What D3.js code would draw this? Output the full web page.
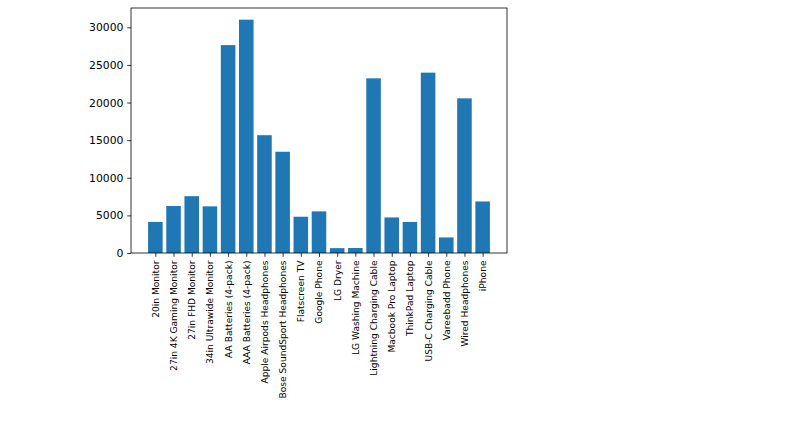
<!DOCTYPE html>
<html>
<head>
<meta charset="utf-8">
<script src="https://cdn.jsdelivr.net/npm/d3@7"></script>
<style>
  body { margin: 0; background: #fff; }
  text { font-family: "DejaVu Sans", sans-serif; fill: #000; }
</style>
</head>
<body>
<svg id="chart" width="793" height="426"></svg>
<script>
// Quantity ordered per product
const products = [
  '20in Monitor', '27in 4K Gaming Monitor', '27in FHD Monitor',
  '34in Ultrawide Monitor', 'AA Batteries (4-pack)', 'AAA Batteries (4-pack)',
  'Apple Airpods Headphones', 'Bose SoundSport Headphones', 'Flatscreen TV',
  'Google Phone', 'LG Dryer', 'LG Washing Machine', 'Lightning Charging Cable',
  'Macbook Pro Laptop', 'ThinkPad Laptop', 'USB-C Charging Cable',
  'Vareebadd Phone', 'Wired Headphones', 'iPhone'
];
const quantities = [
  4129, 6244, 7550, 6199, 27635, 31017, 15661, 13457, 4819, 5532,
  646, 666, 23217, 4728, 4130, 23975, 2068, 20557, 6849
];
const yTicks = [0, 5000, 10000, 15000, 20000, 25000, 30000];

const margin = {top: 8, right: 286, bottom: 173, left: 131};
const width = 793 - margin.left - margin.right;
const height = 426 - margin.top - margin.bottom;
const barWidth = 0.8;

const svg = d3.select('#chart');
const g = svg.append('g')
    .attr('transform', 'translate(' + margin.left + ',' + margin.top + ')');

// matplotlib-style 5% margins around the data extent
const xMin = -barWidth / 2, xMax = products.length - 1 + barWidth / 2;
const xPad = (xMax - xMin) * 0.05;
const x = d3.scaleLinear()
    .domain([xMin - xPad, xMax + xPad])
    .range([0, width]);
const yMax = d3.max(quantities) * 1.05;
const y = d3.scaleLinear().domain([0, yMax]).range([height, 0]);

g.selectAll('rect.bar')
    .data(quantities)
    .join('rect')
    .attr('class', 'bar')
    .attr('x', (d, i) => x(i - barWidth / 2))
    .attr('width', (d, i) => x(i + barWidth / 2) - x(i - barWidth / 2))
    .attr('y', d => y(d))
    .attr('height', d => y(0) - y(d))
    .attr('fill', '#1f77b4');

const yAxis = g.append('g')
    .call(d3.axisLeft(y).tickValues(yTicks).tickFormat(d3.format('d'))
        .tickSize(3.8).tickPadding(3.8));
yAxis.selectAll('text').attr('font-size', 10.8).attr('fill', '#222');

const xAxis = g.append('g')
    .attr('transform', 'translate(0,' + height + ')')
    .call(d3.axisBottom(x).tickValues(d3.range(products.length))
        .tickFormat(i => products[i]).tickSize(3.8));
xAxis.selectAll('text')
    .attr('font-size', 9.1)
    .attr('fill', '#222')
    .attr('transform', 'rotate(-90)')
    .attr('text-anchor', 'end')
    .attr('x', -7.5)
    .attr('y', 0)
    .attr('dy', '0.32em');

[yAxis, xAxis].forEach(a => {
  a.select('.domain').remove();
  a.selectAll('line').attr('stroke', '#000').attr('stroke-width', 0.8);
});

// frame (all four spines)
g.append('rect')
    .attr('width', width).attr('height', height)
    .attr('fill', 'none').attr('stroke', '#000').attr('stroke-width', 0.8);
</script>
</body>
</html>
